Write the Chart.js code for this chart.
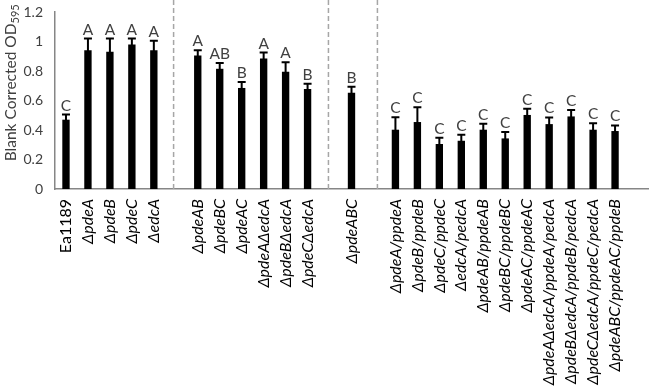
<!DOCTYPE html>
<html>
<head>
<meta charset="utf-8">
<script src="https://cdn.jsdelivr.net/npm/chart.js@4.4.0/dist/chart.umd.min.js"></script>
<style>
  html, body { margin: 0; padding: 0; background: #fff; }
  #wrap { width: 650px; height: 386px; }
</style>
</head>
<body>
<div id="wrap"><canvas id="myChart"></canvas></div>
<script>
// strains, blank strings are the empty slots between groups
var strains = ['Ea1189', 'ΔpdeA', 'ΔpdeB', 'ΔpdeC', 'ΔedcA', '',
  'ΔpdeAB', 'ΔpdeBC', 'ΔpdeAC', 'ΔpdeAΔedcA', 'ΔpdeBΔedcA', 'ΔpdeCΔedcA', '',
  'ΔpdeABC', '',
  'ΔpdeA/ppdeA', 'ΔpdeB/ppdeB', 'ΔpdeC/ppdeC', 'ΔedcA/pedcA', 'ΔpdeAB/ppdeAB',
  'ΔpdeBC/ppdeBC', 'ΔpdeAC/ppdeAC', 'ΔpdeAΔedcA/ppdeA/pedcA', 'ΔpdeBΔedcA/ppdeB/pedcA',
  'ΔpdeCΔedcA/ppdeC/pedcA', 'ΔpdeABC/ppdeAC/ppdeB', ''];
var odMeans = [0.47, 0.94, 0.93, 0.98, 0.94, null,
  0.905, 0.815, 0.685, 0.885, 0.795, 0.678, null,
  0.653, null,
  0.402, 0.454, 0.305, 0.327, 0.402, 0.343, 0.502, 0.44, 0.492, 0.402, 0.393, null];
var odErr = [0.035, 0.08, 0.09, 0.04, 0.065, null,
  0.035, 0.04, 0.04, 0.04, 0.065, 0.035, null,
  0.04, null,
  0.085, 0.1, 0.043, 0.04, 0.04, 0.043, 0.042, 0.045, 0.043, 0.043, 0.038, null];
var groupLetters = ['C', 'A', 'A', 'A', 'A', '',
  'A', 'AB', 'B', 'A', 'A', 'B', '',
  'B', '',
  'C', 'C', 'C', 'C', 'C', 'C', 'C', 'C', 'C', 'C', 'C', ''];
// dashed separators, in category units
var separators = [4.9, 11.95, 14.18];
var yTicks = [0, 0.2, 0.4, 0.6, 0.8, 1, 1.2];

var extras = {
  id: 'extras',
  afterDatasetsDraw: function(chart) {
    var ctx = chart.ctx;
    var x = chart.scales.x, y = chart.scales.y;
    var area = chart.chartArea;
    ctx.save();
    // separators
    ctx.strokeStyle = '#a6a6a6';
    ctx.lineWidth = 1.5;
    ctx.setLineDash([5, 3]);
    separators.forEach(function(s) {
      var px = x.getPixelForValue(s);
      ctx.beginPath();
      ctx.moveTo(px, 0);
      ctx.lineTo(px, area.bottom);
      ctx.stroke();
    });
    ctx.setLineDash([]);
    // error bars and letters
    var meta = chart.getDatasetMeta(0);
    ctx.strokeStyle = '#000';
    ctx.lineWidth = 2;
    ctx.font = '15.5px Lato';
    ctx.fillStyle = '#404040';
    ctx.textAlign = 'center';
    ctx.textBaseline = 'alphabetic';
    for (var i = 0; i < odMeans.length; i++) {
      if (odMeans[i] == null) continue;
      var cx = meta.data[i].x;
      var top = y.getPixelForValue(odMeans[i] + odErr[i]);
      var bot = y.getPixelForValue(odMeans[i] - odErr[i]);
      ctx.beginPath();
      ctx.moveTo(cx, bot);
      ctx.lineTo(cx, top);
      ctx.moveTo(cx - 4, top);
      ctx.lineTo(cx + 4, top);
      ctx.stroke();
      ctx.fillText(groupLetters[i], cx, top - 4);
    }
    // y title with subscript
    ctx.save();
    ctx.translate(16, area.top + (area.bottom - area.top) * 0.4);
    ctx.rotate(-Math.PI / 2);
    ctx.fillStyle = '#404040';
    var main = 'Blank Corrected OD';
    ctx.font = '11px Lato';
    var subW = ctx.measureText('595').width;
    ctx.font = '15.5px Lato';
    var mainW = ctx.measureText(main).width;
    var start = -(mainW + subW) / 2;
    ctx.textAlign = 'left';
    ctx.fillText(main, start, 0);
    ctx.font = '11px Lato';
    ctx.fillText('595', start + mainW, 3);
    ctx.restore();
    ctx.restore();
  }
};

var chart = new Chart(document.getElementById('myChart').getContext('2d'), {
  type: 'bar',
  data: {
    labels: strains,
    datasets: [{
      data: odMeans,
      backgroundColor: '#000',
      barPercentage: 0.335,
      categoryPercentage: 1
    }]
  },
  options: {
    responsive: true,
    maintainAspectRatio: false,
    animation: false,
    layout: { padding: { left: 0, right: 2, top: 0, bottom: 0 } },
    plugins: { legend: { display: false }, tooltip: { enabled: false } },
    scales: {
      x: {
        grid: { display: false, drawTicks: false },
        border: { color: '#868686', width: 1.5 },
        afterFit: function(s) { s.height = 197; s.paddingLeft = 0; s.paddingRight = 0; },
        ticks: {
          autoSkip: false,
          maxRotation: 90,
          minRotation: 90,
          padding: 10,
          color: '#000',
          font: function(c) {
            var lab = strains[c.index] || '';
            return { family: 'Lato', size: 16, style: lab.charAt(0) === 'Δ' ? 'italic' : 'normal' };
          }
        }
      },
      y: {
        min: 0,
        max: 1.2,
        afterBuildTicks: function(s) { s.ticks = yTicks.map(function(v) { return { value: v }; }); },
        afterFit: function(s) { s.width = 55; s.paddingTop = 12; },
        grid: { display: false, drawTicks: false },
        border: { color: '#868686', width: 1.5 },
        ticks: {
          padding: 12,
          color: '#404040',
          font: { family: 'Lato', size: 14 },
          callback: function(v) { return String(Math.round(v * 10) / 10); }
        }
      }
    }
  },
  plugins: [extras]
});
</script>
</body>
</html>
